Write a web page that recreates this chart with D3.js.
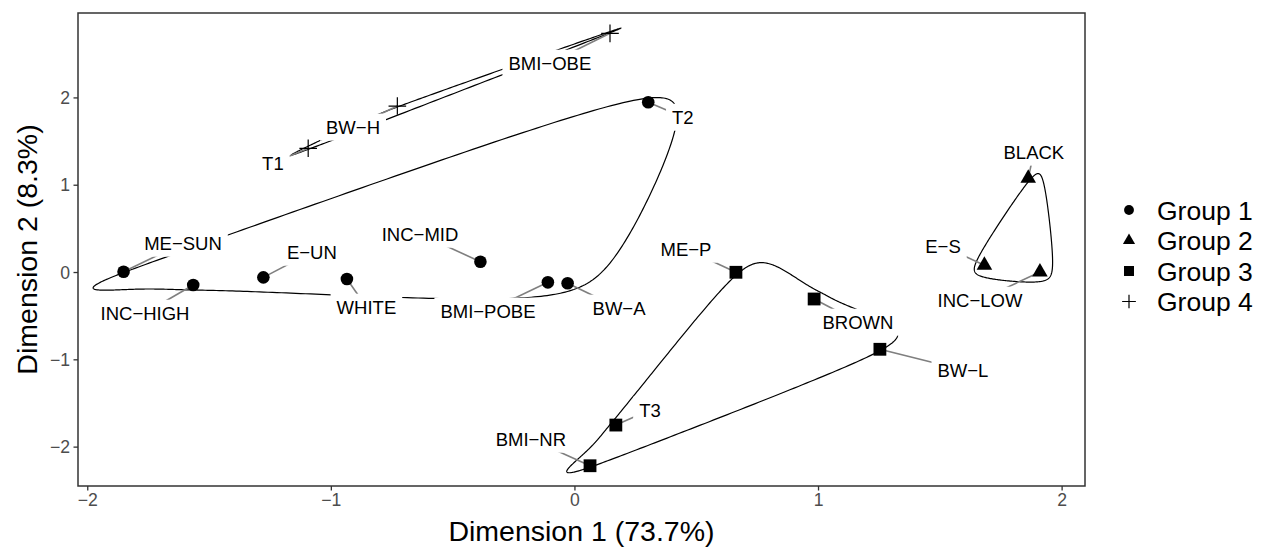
<!DOCTYPE html>
<html>
<head>
<meta charset="utf-8">
<script src="https://cdn.jsdelivr.net/npm/d3@7"></script>
<style>
  body { margin: 0; background: #fff; }
  text { font-family: "Liberation Sans", Arial, Helvetica, sans-serif; }
</style>
</head>
<body>
<script>
// categories and their coordinates on the two dimensions
var names = ["ME−SUN", "INC−HIGH", "E−UN", "WHITE", "INC−MID", "BMI−POBE", "BW−A", "T2",
             "BLACK", "E−S", "INC−LOW",
             "ME−P", "BROWN", "BW−L", "T3", "BMI−NR",
             "T1", "BW−H", "BMI−OBE"];
var groups = [1, 1, 1, 1, 1, 1, 1, 1,
              2, 2, 2,
              3, 3, 3, 3, 3,
              4, 4, 4];
var dim1 = [-1.851, -1.565, -1.277, -0.934, -0.386, -0.109, -0.028, 0.303,
            1.863, 1.683, 1.911,
            0.663, 0.984, 1.254, 0.170, 0.064,
            -1.093, -0.727, 0.146];
var dim2 = [0.003, -0.149, -0.061, -0.080, 0.118, -0.118, -0.129, 1.944,
            1.073, 0.077, 0.000,
            -0.003, -0.309, -0.885, -1.753, -2.219,
            1.417, 1.901, 2.734];
// where the repelled labels ended up
var labDim1 = [-1.607, -1.763, -1.078, -0.854, -0.634, -0.355, 0.183, 0.445,
               1.886, 1.513, 1.665,
               0.458, 1.164, 1.595, 0.310, -0.179,
               -1.238, -0.909, -0.101];
var labDim2 = [0.332, -0.470, 0.229, -0.401, 0.435, -0.447, -0.412, 1.775,
               1.375, 0.298, -0.321,
               0.263, -0.573, -1.123, -1.581, -1.913,
               1.249, 1.661, 2.394];
var groupNames = ["Group 1", "Group 2", "Group 3", "Group 4"];
var xTicks = [-2, -1, 0, 1, 2];
var yTicks = [-2, -1, 0, 1, 2];

var SHAPE = -0.4, EXPAND = 0.01;

var width = 1261, height = 547;
var panel = {left: 78, right: 1085, top: 13, bottom: 486};

var x = d3.scaleLinear().domain([-2.038, 2.096]).range([panel.left, panel.right]);
var y = d3.scaleLinear().domain([-2.451, 2.967]).range([panel.bottom, panel.top]);

var svg = d3.select("body").append("svg")
    .attr("width", width)
    .attr("height", height);

var pts = names.map((n, i) => ({name: n, g: groups[i], x: dim1[i], y: dim2[i], lx: labDim1[i], ly: labDim2[i]}));

// x-spline, closed (same blending as grid's xspline)
let fBlend = (num, den) => {
    var p = 2 * den * den, u = num / den, u2 = u * u;
    return u * u2 * (10 - p + (2 * p - 15) * u + (6 - p) * u2);
}
let gBlend = (u, q) => u * (q + u * (2 * q + u * (8 - 12 * q + u * (14 * q - 11 + u * (4 - 5 * q)))));
let hBlend = (u, q) => { var u2 = u * u; return u * (q + u * (2 * q + u2 * (-2 * q - u * q))); }

let xspline = (cp, s) => {
    var n = cp.length, out = [];
    for (var k = 0; k < n; k++) {
        var p0 = cp[(k - 1 + n) % n], p1 = cp[k], p2 = cp[(k + 1) % n], p3 = cp[(k + 2) % n];
        for (var t = 0; t < 1; t += 0.01) {
            var A0, A1, A2, A3;
            if (s < 0) {
                var q = -s;
                A0 = hBlend(-t, q); A2 = gBlend(t, q);
                A1 = gBlend(1 - t, q); A3 = hBlend(t - 1, q);
            } else {
                A0 = t < s ? fBlend(t - s, -1 - s) : 0;
                A2 = fBlend(t + s, 1 + s);
                A1 = fBlend(t - 1 - s, -1 - s);
                A3 = t > 1 - s ? fBlend(t - 1 + s, 1 + s) : 0;
            }
            var w = A0 + A1 + A2 + A3;
            out.push([(A0 * p0[0] + A1 * p1[0] + A2 * p2[0] + A3 * p3[0]) / w,
                      (A0 * p0[1] + A1 * p1[1] + A2 * p2[1] + A3 * p3[1]) / w]);
        }
    }
    return out;
}

var pw = panel.right - panel.left, ph = panel.bottom - panel.top;
var curves = svg.append("g");
[1, 2, 3, 4].forEach(g => {
    var gp = pts.filter(d => d.g == g).map(d => [x(d.x), y(d.y)]);
    var mx = d3.mean(gp, d => d[0]), my = d3.mean(gp, d => d[1]);
    var hull = d3.polygonHull(gp).map(d => [d[0] + Math.sign(d[0] - mx) * EXPAND * pw,
                                             d[1] + Math.sign(d[1] - my) * EXPAND * ph]);
    curves.append("path")
        .attr("d", d3.line()(xspline(hull, SHAPE)) + "Z")
        .attr("fill", "none")
        .attr("stroke", "black")
        .attr("stroke-width", 1.2);
});

// leader segments
svg.append("g").selectAll("line")
    .data(pts)
    .enter()
        .append("line")
        .attr("x1", d => x(d.x)).attr("y1", d => y(d.y))
        .attr("x2", d => x(d.lx)).attr("y2", d => y(d.ly))
        .attr("stroke", "#7f7f7f")
        .attr("stroke-width", 1.6);

// point shapes
let drawShape = (sel, g, cx, cy, big) => {
    var k = big ? 1 : 0.78;
    if (g == 1) sel.append("circle").attr("cx", cx).attr("cy", cy).attr("r", 6.3 * k).attr("fill", "black");
    if (g == 2) {
        var r = 9 * k;
        sel.append("path").attr("d", `M${cx},${cy - r}L${cx + r * 0.866},${cy + r / 2}L${cx - r * 0.866},${cy + r / 2}Z`).attr("fill", "black");
    }
    if (g == 3) sel.append("rect").attr("x", cx - 6.4 * k).attr("y", cy - 6.4 * k).attr("width", 12.8 * k).attr("height", 12.8 * k).attr("fill", "black");
    if (g == 4) {
        var a = 8.8 * k;
        sel.append("path").attr("d", `M${cx - a},${cy}H${cx + a}M${cx},${cy - a}V${cy + a}`).attr("stroke", "black").attr("stroke-width", 1.2);
    }
}
var marks = svg.append("g");
pts.forEach(d => drawShape(marks, d.g, x(d.x), y(d.y), true));

// labels with white boxes
var fs = 18.5;
var labels = svg.append("g").selectAll("g")
    .data(pts)
    .enter()
        .append("g")
        .attr("transform", d => `translate(${x(d.lx)},${y(d.ly)})`);
labels.append("rect").attr("fill", "white");
labels.append("text")
    .attr("text-anchor", "middle")
    .attr("dy", "0.36em")
    .style("font-size", fs + "px")
    .text(d => d.name);
labels.each(function() {
    var b = d3.select(this).select("text").node().getBBox();
    d3.select(this).select("rect")
        .attr("x", b.x - 6).attr("y", b.y - 3)
        .attr("width", b.width + 12).attr("height", b.height + 6);
});

// panel border
svg.append("rect")
    .attr("x", panel.left).attr("y", panel.top)
    .attr("width", pw).attr("height", ph)
    .attr("fill", "none").attr("stroke", "#333").attr("stroke-width", 1.5);

// axes
var xAxis = svg.append("g")
    .attr("transform", `translate(0,${panel.bottom})`)
    .call(d3.axisBottom(x).tickValues(xTicks).tickSize(4.5).tickFormat(d => d3.format("")(d).replace("-", "−")));
var yAxis = svg.append("g")
    .attr("transform", `translate(${panel.left},0)`)
    .call(d3.axisLeft(y).tickValues(yTicks).tickSize(4.5).tickFormat(d => d3.format("")(d).replace("-", "−")));
[xAxis, yAxis].forEach(a => {
    a.select(".domain").remove();
    a.selectAll(".tick line").attr("stroke", "#333").attr("stroke-width", 1.3);
    a.selectAll(".tick text").attr("fill", "#4d4d4d").style("font-size", "17.6px")
        .style("font-family", '"Liberation Sans", Arial, sans-serif');
});
xAxis.selectAll(".tick text").attr("y", 8).attr("dy", "0.71em");
yAxis.selectAll(".tick text").attr("x", -8).attr("dy", "0.35em");

svg.append("text")
    .attr("x", (panel.left + panel.right) / 2).attr("y", 541)
    .attr("text-anchor", "middle")
    .style("font-size", "28.5px")
    .text("Dimension 1 (73.7%)");
svg.append("text")
    .attr("transform", `translate(37,${(panel.top + panel.bottom) / 2}) rotate(-90)`)
    .attr("text-anchor", "middle")
    .style("font-size", "28.5px")
    .text("Dimension 2 (8.3%)");

// legend
var legend = svg.append("g");
groupNames.forEach((n, i) => {
    var ly = 210 + i * 30.5;
    drawShape(legend, i + 1, 1129, ly, false);
    legend.append("text")
        .attr("x", 1157).attr("y", ly)
        .attr("dy", "0.36em")
        .style("font-size", "26.5px")
        .text(n);
});
</script>
</body>
</html>
